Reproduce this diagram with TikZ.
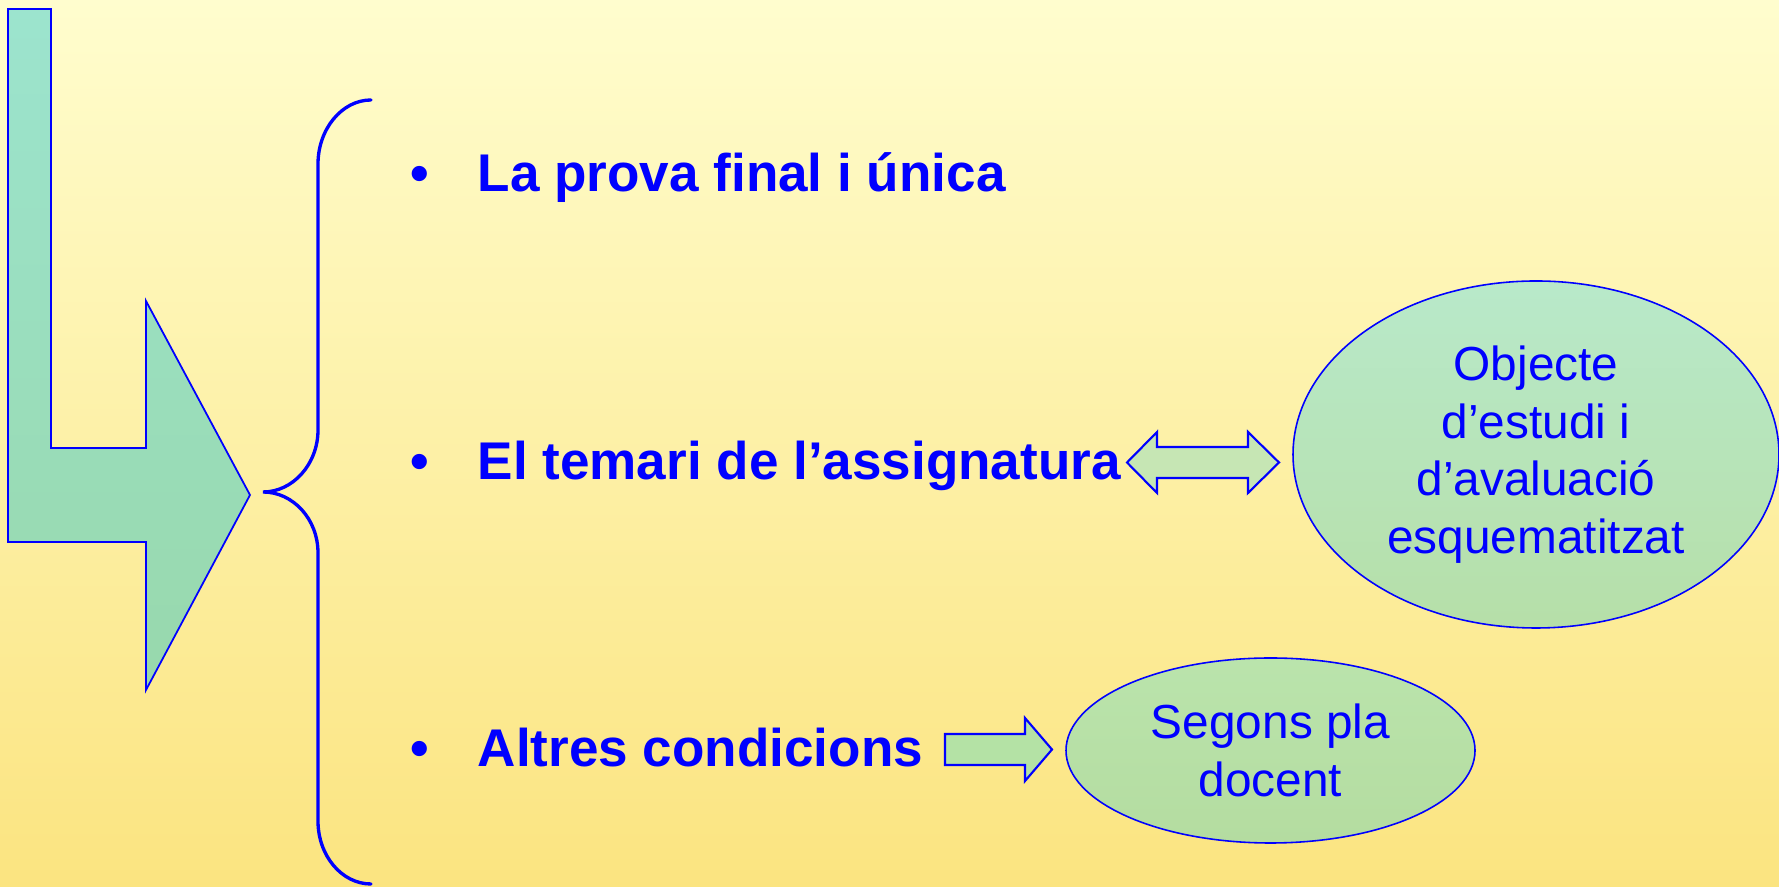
\documentclass[tikz,border=0pt]{standalone}
\usepackage{fontspec}
\setmainfont{Liberation Sans}
\usetikzlibrary{shapes.geometric}
\definecolor{ink}{RGB}{0,0,255}
\definecolor{papertop}{RGB}{255,253,206}
\definecolor{paperbottom}{RGB}{251,228,128}
\definecolor{bendtop}{RGB}{156,228,206}
\definecolor{bendbottom}{RGB}{152,216,172}
\definecolor{ovaltop}{RGB}{184,233,202}
\definecolor{ovalbottom}{RGB}{182,223,168}
\definecolor{smalltop}{RGB}{186,228,172}
\definecolor{smallbottom}{RGB}{180,220,160}
\definecolor{twoway}{RGB}{198,230,180}
\definecolor{oneway}{RGB}{180,226,165}
\tikzstyle{item}=[inner sep=0pt, text=ink, font=\fontsize{15.1}{18}\selectfont\bfseries]
\tikzstyle{oval}=[ellipse, draw=ink, line width=.45pt, inner sep=0pt, align=center, text=ink, font=\fontsize{13.6}{16.4}\selectfont]
\tikzstyle{blockarrow}=[draw=ink, line width=.6pt, line join=miter]

\begin{document}
\begin{tikzpicture}
  \useasboundingbox (0,0) rectangle (17.79,8.87);
  \shade[top color=papertop, bottom color=paperbottom] (0,0) rectangle (17.79,8.87);

  %% Bent arrow and brace
  \shadedraw[top color=bendtop, bottom color=bendbottom, draw=ink, line width=.5pt]
    (0.08,8.78) -- (0.51,8.78) -- (0.51,4.39) -- (1.46,4.39) -- (1.46,5.86) -- (2.50,3.92)
    -- (1.46,1.97) -- (1.46,3.45) -- (0.08,3.45) -- cycle;
  \draw[ink, line width=.95pt, line cap=round]
    (3.71,7.87) .. controls (3.42,7.87) and (3.18,7.58) .. (3.18,7.23) -- (3.18,4.57)
    .. controls (3.18,4.23) and (2.93,3.95) .. (2.63,3.95)
    .. controls (2.93,3.95) and (3.18,3.68) .. (3.18,3.34) -- (3.18,0.66)
    .. controls (3.18,0.31) and (3.42,0.03) .. (3.71,0.03);

  %% Items
  \draw (4.10,6.95) node[item, anchor=base west] (B1) {•};
  \draw (4.10,4.07) node[item, anchor=base west] (B2) {•};
  \draw (4.10,1.20) node[item, anchor=base west] (B3) {•};
  \draw (4.77,6.95) node[item, anchor=base west] (T1) {La prova final i única};
  \draw (4.77,4.07) node[item, anchor=base west] (T2) {El temari de l’assignatura};
  \draw (4.77,1.20) node[item, anchor=base west] (T3) {Altres condicions};

  %% Ovals
  \draw (15.36,4.325) node[oval, top color=ovaltop, bottom color=ovalbottom, minimum width=4.86cm, minimum height=3.47cm] (O1) {Objecte\\d’estudi i\\d’avaluació\\esquematitzat};
  \draw (12.705,1.365) node[oval, top color=smalltop, bottom color=smallbottom, minimum width=4.09cm, minimum height=1.85cm] (O2) {Segons pla\\docent};

  %% Block arrows
  \draw[blockarrow, fill=twoway] (11.27,4.245) -- (11.57,4.55) -- (11.57,4.40) -- (12.48,4.40) -- (12.48,4.55)
    -- (12.79,4.245) -- (12.48,3.94) -- (12.48,4.09) -- (11.57,4.09) -- (11.57,3.94) -- cycle;
  \draw[blockarrow, fill=oneway] (9.45,1.53) -- (10.25,1.53) -- (10.25,1.69) -- (10.52,1.375)
    -- (10.25,1.06) -- (10.25,1.22) -- (9.45,1.22) -- cycle;
\end{tikzpicture}
\end{document}
